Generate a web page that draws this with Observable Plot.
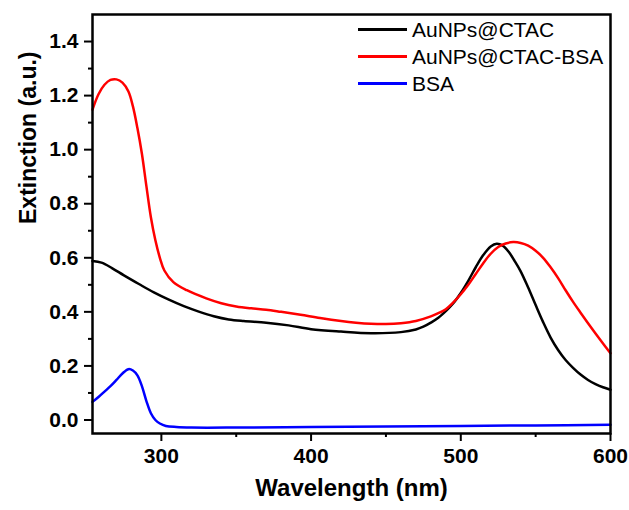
<!DOCTYPE html>
<html>
<head>
<meta charset="utf-8">
<script src="https://cdn.jsdelivr.net/npm/d3@7"></script>
<script src="https://cdn.jsdelivr.net/npm/@observablehq/plot@0.6"></script>
<style>
  html, body { margin: 0; padding: 0; background: #fff; }
  #wrap { position: relative; width: 629px; height: 510px; font-family: "Liberation Sans", Arial, sans-serif; }
  #legend { position: absolute; left: 358px; top: 16px; }
  .row { display: flex; align-items: center; height: 27px; line-height: 27px; font-size: 21px; color: #000; white-space: nowrap; }
  .sw { width: 49px; height: 2.5px; margin-right: 5px; }
</style>
</head>
<body>
<div id="wrap"><div id="legend"></div></div>
<script>
// ---- data ----
const seriesNames = ["AuNPs@CTAC", "AuNPs@CTAC-BSA", "BSA"];
const seriesColors = ["#000000", "#ff0000", "#0000ff"];

const ctacWl = [254,260,267,275,285,295,305,315,325,335,345,355,370,385,400,420,440,460,470,475,480,485,490,495,500,505,510,515,520,524,528,532,536,540,545,550,555,560,565,570,575,580,585,590,595,600];
const ctacAbs = [0.588,0.582,0.562,0.535,0.503,0.472,0.445,0.421,0.401,0.384,0.372,0.366,0.36,0.35,0.336,0.327,0.321,0.325,0.335,0.345,0.36,0.378,0.403,0.432,0.47,0.515,0.565,0.61,0.642,0.652,0.645,0.622,0.588,0.55,0.49,0.425,0.362,0.305,0.259,0.222,0.193,0.168,0.148,0.133,0.121,0.112];

const bsaMixWl = [254,258,262,266,270,274,278,281,284,287,290,293,296,299,302,308,317,330,340,350,360,370,380,393,406,420,430,440,450,460,470,480,485,490,495,500,505,510,515,520,525,530,535,540,545,550,555,560,565,570,575,580,585,590,595,600];
const bsaMixAbs = [1.148,1.205,1.24,1.258,1.26,1.248,1.215,1.16,1.08,0.985,0.865,0.75,0.665,0.6,0.553,0.51,0.48,0.45,0.432,0.42,0.413,0.408,0.4,0.389,0.377,0.366,0.36,0.356,0.355,0.358,0.366,0.383,0.395,0.41,0.435,0.465,0.5,0.54,0.58,0.615,0.64,0.653,0.658,0.655,0.645,0.626,0.6,0.565,0.525,0.48,0.437,0.397,0.358,0.32,0.283,0.247];

const bsaWl = [254,258,262,266,270,274,278,281,284,287,290,293,296,299,303,310,320,350,400,450,500,550,600];
const bsaAbs = [0.067,0.085,0.105,0.125,0.148,0.172,0.188,0.183,0.165,0.125,0.07,0.025,0.0,-0.013,-0.022,-0.026,-0.028,-0.028,-0.026,-0.024,-0.022,-0.02,-0.018];

const xMajor = [300, 400, 500, 600];
const xMinor = [350, 450, 550];
const yMajor = [0, 0.2, 0.4, 0.6, 0.8, 1.0, 1.2, 1.4];
const yMinor = [0.1, 0.3, 0.5, 0.7, 0.9, 1.1, 1.3];
const xTitle = "Wavelength (nm)";
const yTitle = "Extinction (a.u.)";

// ---- build table ----
const rows = [];
[[ctacWl, ctacAbs], [bsaMixWl, bsaMixAbs], [bsaWl, bsaAbs]].forEach(([w, a], i) => {
  w.forEach((wl, j) => rows.push({series: seriesNames[i], wl, v: a[j]}));
});

const font = "'Liberation Sans', Arial, sans-serif";
const chart = Plot.plot({
  width: 629,
  height: 510,
  marginLeft: 92,
  marginRight: 19,
  marginTop: 14,
  marginBottom: 77,
  style: {fontFamily: font, fontSize: "21px", fontWeight: "bold", color: "#000", background: "#fff"},
  x: {domain: [254, 600]},
  y: {domain: [-0.05, 1.5]},
  color: {domain: seriesNames, range: seriesColors},
  marks: [
    Plot.line(rows, {x: "wl", y: "v", z: "series", stroke: "series", strokeWidth: 2.5, curve: "catmull-rom"}),
    Plot.frame({stroke: "#000", strokeWidth: 2.5}),
    Plot.axisX({ticks: xMajor, tickSize: 8, tickPadding: 7, tickFormat: d => String(d), label: null, strokeWidth: 2, fontSize: 21, fontWeight: "bold"}),
    Plot.axisX({ticks: xMinor, tickSize: 4, tickFormat: () => "", label: null, strokeWidth: 2}),
    Plot.axisY({ticks: yMajor, tickSize: 8, tickPadding: 6, tickFormat: d3.format(".1f"), label: null, strokeWidth: 2, fontSize: 21, fontWeight: "bold"}),
    Plot.axisY({ticks: yMinor, tickSize: 4, tickFormat: () => "", label: null, strokeWidth: 2}),
    Plot.text([xTitle], {frameAnchor: "bottom", dy: 62, text: d => d, fontSize: 24, fontWeight: "bold", fill: "#000"}),
    Plot.text([yTitle], {frameAnchor: "left", dx: -64, rotate: -90, text: d => d, fontSize: 23, fontWeight: "bold", fill: "#000"})
  ]
});
document.getElementById("wrap").prepend(chart);

const legend = document.getElementById("legend");
seriesNames.forEach((name, i) => {
  const r = document.createElement("div");
  r.className = "row";
  const s = document.createElement("span");
  s.className = "sw";
  s.style.background = seriesColors[i];
  const t = document.createElement("span");
  t.textContent = name;
  r.append(s, t);
  legend.append(r);
});
</script>
</body>
</html>
